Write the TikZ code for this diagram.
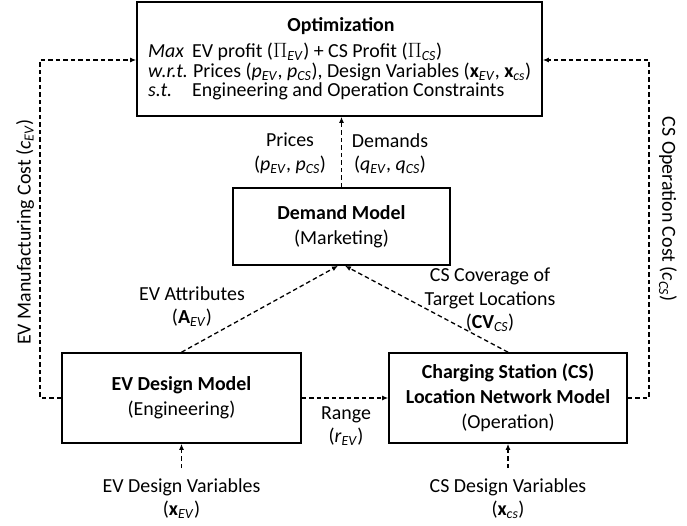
\documentclass[tikz,border=0pt]{standalone}
\usepackage{fontspec}
\setmainfont{Carlito}
\usetikzlibrary{arrows.meta,calc}
% font size used throughout, and italic subscripts
\newcommand\fs{\fontsize{19.9}{25}\selectfont}
\newcommand\fsl{\fontsize{19.9}{23.5}\selectfont}
\newcommand\sbs[1]{\textsubscript{\textit{#1}}}

\begin{document}
\begin{tikzpicture}[x=1pt,y=-1pt,
  every node/.style={font=\fs, inner sep=0pt},
  box/.style={draw, line width=1.6pt, align=center},
  flow/.style={line width=1.3pt, dash pattern=on 4.5pt off 3pt,
               -{Latex[length=6pt,width=5pt]}},
  lbl/.style={align=center, font=\fsl}]
\useasboundingbox (0,0) rectangle (687,525);

% ---------- model boxes ----------
\node[box, minimum width=405pt, minimum height=114pt] (opt) at (339.5,59) {};
\node[font=\fs\bfseries, anchor=base] (optT) at (341,31) {Optimization};
\node[anchor=base west] (kMax) at (148,57) {\textit{Max}};
\node[anchor=base west] (rMax) at (192,57)
  {EV profit ($\Pi$\sbs{EV}) + CS Profit ($\Pi$\sbs{CS})};
\node[anchor=base west] (kWrt) at (148,77) {\textit{w.r.t.}};
\node[anchor=base west] (rWrt) at (193,77)
  {Prices (\textit{p}\sbs{EV}, \textit{p}\sbs{CS}), Design Variables (\textbf{x}\sbs{EV}, \textbf{x}\sbs{cs})};
\node[anchor=base west] (kSt) at (148,96) {\textit{s.t.}};
\node[anchor=base west] (rSt) at (192,96) {Engineering and Operation Constraints};

\node[box, minimum width=217pt, minimum height=77pt] (dem) at (341.5,226.5)
  {\textbf{Demand Model}\\(Marketing)};
\node[box, minimum width=239pt, minimum height=90pt] (evd) at (181.5,398)
  {\textbf{EV Design Model}\\(Engineering)};
\node[box, minimum width=238pt, minimum height=90pt] (csn) at (508,398)
  {\textbf{Charging Station (CS)}\\\textbf{Location Network Model}\\(Operation)};

% ---------- connectors ----------
\coordinate (cL) at (40,60);
\coordinate (cR) at (649,60);
\coordinate (evin) at (181.5,468);
\coordinate (csin) at (508,468);

\draw[flow] (evd.west) -| (cL) |- (opt.west |- cL);
\draw[flow] (csn.east) -| (cR) |- (opt.east |- cR);
\draw[flow] (dem.north) -- (dem.north |- opt.south);
\draw[flow] (evd.north) -- ($(dem.south)+(-3.5,0)$);
\draw[flow] (csn.north) -- ($(dem.south)+(3.5,0)$);
\draw[flow] (evd.east) -- (csn.west);
\draw[flow] (evin) -- (evd.south);
\draw[flow] (csin) -- (csn.south);

% ---------- connector labels ----------
\node[lbl] (lPrice) at (290,153.5) {Prices\\(\textit{p}\sbs{EV}, \textit{p}\sbs{CS})};
\node[lbl] (lDem) at (390,153.5) {Demands\\(\textit{q}\sbs{EV}, \textit{q}\sbs{CS})};
\node[lbl] (lAttr) at (192,306.5) {EV Attributes\\(\textbf{A}\sbs{EV})};
\node[lbl] (lCov) at (490,300) {CS Coverage of\\Target Locations\\(\textbf{CV}\sbs{CS})};
\node[lbl] (lRange) at (346,426) {Range\\(\textit{r}\sbs{EV})};
\node[lbl] (lEVvar) at (181.5,498.5) {EV Design Variables\\(\textbf{x}\sbs{EV})};
\node[lbl] (lCSvar) at (508,498.5) {CS Design Variables\\(\textbf{x}\sbs{cs})};
\node[rotate=90] (lMfg) at (25,232) {EV Manufacturing Cost (\textit{c}\sbs{EV})};
\node[rotate=-90] (lOp) at (668,209) {CS Operation Cost (\textit{c}\sbs{CS})};
\end{tikzpicture}
\end{document}
